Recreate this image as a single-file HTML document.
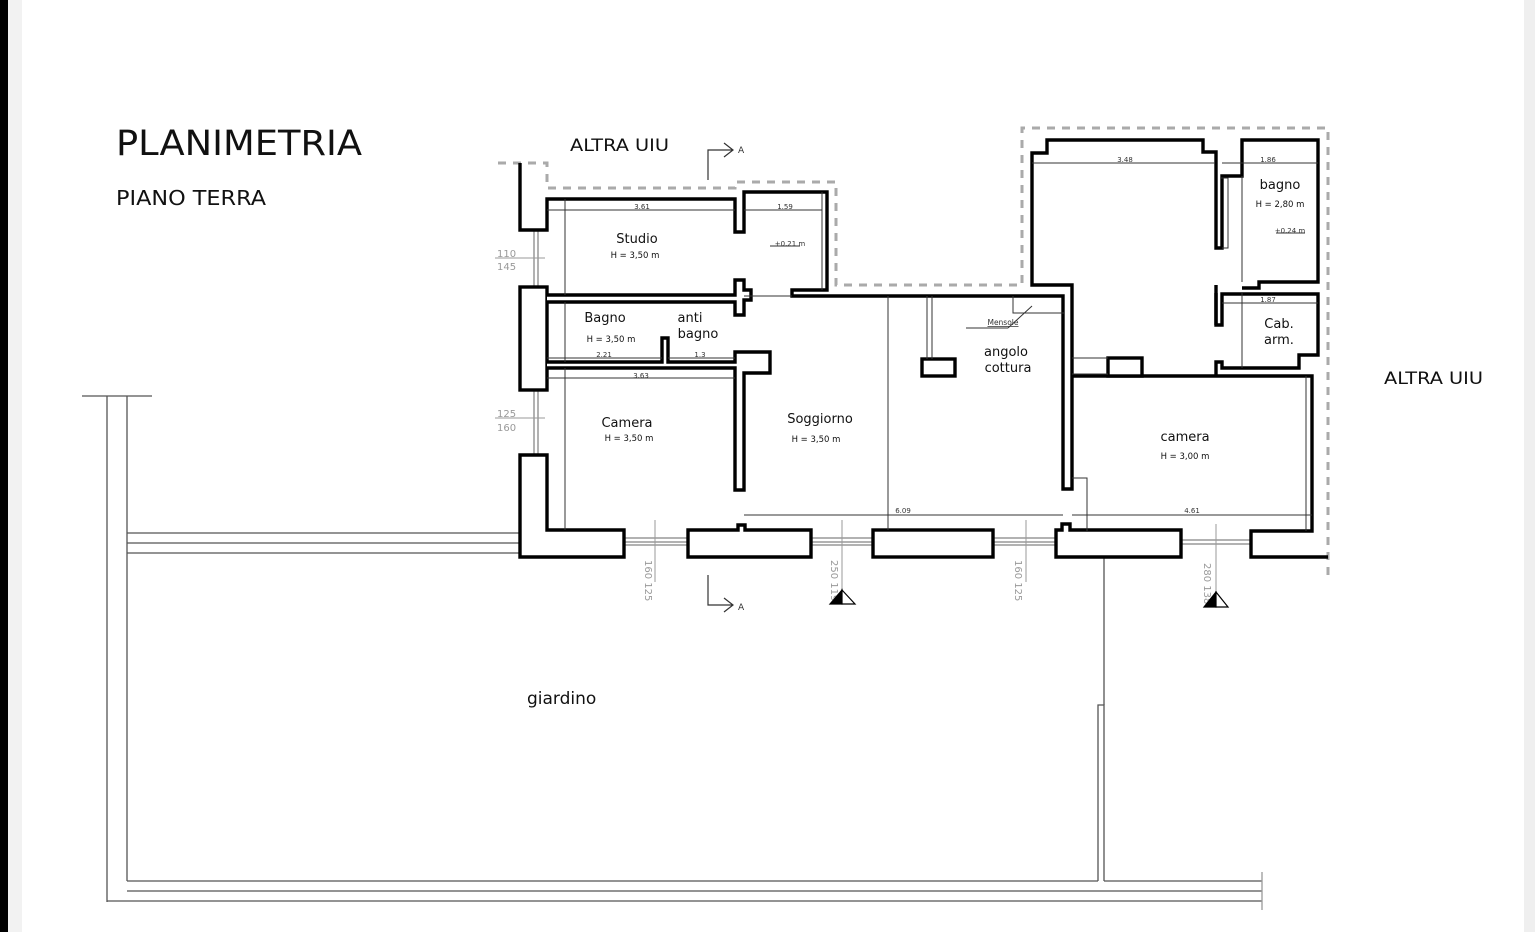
<!DOCTYPE html>
<html><head><meta charset="utf-8"><style>
html,body{margin:0;padding:0;background:#fff;}
svg{display:block;}
text{font-family:"DejaVu Sans","Liberation Sans",sans-serif;}
</style></head><body>
<svg width="1535" height="932" viewBox="0 0 1535 932" xmlns="http://www.w3.org/2000/svg">
<rect width="1535" height="932" fill="#fff"/>
<rect x="0" y="0" width="8" height="932" fill="#000"/>
<rect x="8" y="0" width="14" height="932" fill="#f2f2f2"/>
<rect x="1524" y="0" width="11" height="932" fill="#efefef"/>

<text x="116" y="155" font-size="35" textLength="246" lengthAdjust="spacingAndGlyphs" fill="#111">PLANIMETRIA</text>
<text x="116" y="205" font-size="20" textLength="150" lengthAdjust="spacingAndGlyphs" fill="#111">PIANO TERRA</text>
<text x="570" y="151" font-size="17" textLength="99" lengthAdjust="spacingAndGlyphs" fill="#111">ALTRA UIU</text>
<text x="1384" y="384" font-size="17" textLength="99" lengthAdjust="spacingAndGlyphs" fill="#111">ALTRA UIU</text>
<text x="527" y="704" font-size="17" fill="#111">giardino</text>

<!-- dashed outline -->
<g fill="none" stroke="#aaa" stroke-width="3" stroke-dasharray="8,7">
<path d="M498,163 H547 V188 H735 V182 H836 V285 H1022 V128 H1328 V582"/>
</g>

<!-- garden lines -->
<g fill="none" stroke="#555" stroke-width="1.3">
<path d="M82,396 H152"/>
<path d="M107,396 V902"/><path d="M127,396 V553"/><path d="M127,553 V881"/>
<path d="M127,533 H520 M127,543 H520 M127,553 H520"/>
<path d="M107,901 H1262 M127,891 H1262 M127,881 H1098 M1104,881 H1262"/>
<path d="M1098,881 V705 H1104 V881"/><path d="M1104,557 V705"/>
<path d="M1262,872 V910" stroke="#999"/>
</g>

<!-- windows -->
<g stroke="#666" stroke-width="1">
<path d="M534,230 V287 M538,230 V287 M534,390 V455 M538,390 V455"/>
<path d="M624,538 H688 M624,542 H688 M624,545 H688"/>
<path d="M811,538 H873 M811,542 H873 M811,545 H873"/>
<path d="M993,538 H1056 M993,542 H1056 M993,545 H1056"/>
<path d="M1181,540 H1251 M1181,544 H1251"/>
</g>

<!-- walls -->
<g fill="#fff" stroke="#000" stroke-width="3.4" stroke-linejoin="miter">
<path fill="none" d="M520,163 V230 H547 V199 H735 V232 H744 V192 H827 V290 H792 V296 H1063 V489 H1072 V285 H1032 V153 H1047 V140 H1203 V152 H1216 V248 H1222 V176 H1242 V140 H1318 V282 H1259 V288 H1242"/>
<rect x="520" y="287" width="27" height="103"/>
<path d="M547,295 H735 V280 H744 V290 H751 V300 H744 V315 H735 V302 H547"/>
<path d="M547,362 H662 V338 H668 V362 H735 V352 H770 V373 H744 V490 H735 V368 H547"/>
<path d="M520,455 H547 V530 H624 V557 H520 Z"/>
<path d="M688,530 H738 V525 H745 V530 H811 V557 H688 Z"/>
<rect x="873" y="530" width="120" height="27"/>
<path d="M1056,530 H1062 V524 H1070 V530 H1181 V557 H1056 Z"/>
<path fill="none" d="M1328,557 H1251 V531 H1312 V376 H1072"/>
<path fill="none" d="M1216,293 V325 H1222 V294 H1318 V355 H1299 V368 H1222 V362 H1216 V376"/>
<path fill="none" d="M1216,285 V325"/>
<rect x="922" y="359" width="33" height="17"/>
<rect x="1108" y="358" width="34" height="18"/>
</g>

<!-- thin lines -->
<g stroke="#333" stroke-width="1" fill="none">
<path d="M932,296 V359 M927,296 V359"/>
<path d="M1013,296 V313 H1064 M1008,328 L1032,306"/>
<path d="M966,328 H1008"/>
<path d="M1072,358 H1108 M1072,374 H1108"/>
<path d="M1072,478 H1087 V531"/>
<path d="M1221,178 H1228 V248 H1222"/>
<path d="M744,296 H792"/>
<!-- dimension lines -->
<path d="M547,210 H735 M744,210 H822 M565,199 V295 M822,192 V290"/>
<path d="M565,302 V362 M547,358 H662 M668,358 H735 M547,378 H735 M565,368 V530"/>
<path d="M744,515 H1063 M1072,515 H1312 M888,296 V530 M1306,376 V531"/>
<path d="M1032,163 H1215 M1222,163 H1318 M1242,176 V282 M1222,303 H1318 M1242,293 V368"/>
<path d="M770,246 H800 M1276,233 H1305"/>
</g>
<g stroke="#999" stroke-width="1" fill="none">
<path d="M495,258 H545 M495,418 H545"/>
<path d="M655,520 V582 M842,520 V590 M1026,520 V582 M1216,524 V590"/>
</g>
<g font-size="7" fill="#333" text-anchor="middle">
<text x="642" y="209">3.61</text><text x="785" y="209">1.59</text>
<text x="790" y="246">+0.21 m</text><text x="1290" y="233">+0.24 m</text>
<text x="604" y="357">2.21</text><text x="700" y="357">1.3</text>
<text x="641" y="378">3.63</text><text x="903" y="513">6.09</text><text x="1192" y="513">4.61</text>
<text x="1125" y="162">3.48</text><text x="1268" y="162">1.86</text><text x="1268" y="302">1.87</text>
<text x="1003" y="325" font-size="7.5" text-decoration="underline">Mensole</text>
</g>
<g font-size="10" fill="#999">
<text x="497" y="257">110</text><text x="497" y="270">145</text>
<text x="497" y="417">125</text><text x="497" y="431">160</text>
<text transform="translate(645,560) rotate(90)">160 125</text>
<text transform="translate(831,560) rotate(90)">250 119</text>
<text transform="translate(1015,560) rotate(90)">160 125</text>
<text transform="translate(1204,563) rotate(90)">280 138</text>
</g>

<!-- room labels -->
<g fill="#111" font-size="13" text-anchor="middle">
<text x="637" y="243">Studio</text>
<text x="605" y="322">Bagno</text>
<text x="690" y="322">anti</text><text x="698" y="338">bagno</text>
<text x="627" y="427">Camera</text>
<text x="820" y="423">Soggiorno</text>
<text x="1006" y="356">angolo</text><text x="1008" y="372">cottura</text>
<text x="1185" y="441">camera</text>
<text x="1280" y="189">bagno</text>
<text x="1279" y="328">Cab.</text><text x="1279" y="344">arm.</text>
</g>
<g fill="#111" font-size="8.5" text-anchor="middle">
<text x="635" y="258">H = 3,50 m</text>
<text x="611" y="342">H = 3,50 m</text>
<text x="629" y="441">H = 3,50 m</text>
<text x="816" y="442">H = 3,50 m</text>
<text x="1185" y="459">H = 3,00 m</text>
<text x="1280" y="207">H = 2,80 m</text>
</g>

<!-- section marks -->
<g stroke="#333" stroke-width="1.2" fill="none">
<path d="M708,180 V150 H733 M724,143 L733,150 L724,157"/>
<path d="M708,575 V605 H733 M724,598 L733,605 L724,612"/>
</g>
<text x="738" y="153" font-size="9" fill="#333">A</text>
<text x="738" y="610" font-size="9" fill="#333">A</text>
<g stroke="#000" stroke-width="1.2">
<path d="M842,590 L830,604 H842 Z" fill="#000"/><path d="M842,590 L855,604 H842 Z" fill="#fff"/>
<path d="M1216,592 L1204,607 H1216 Z" fill="#000"/><path d="M1216,592 L1228,607 H1216 Z" fill="#fff"/>
</g>
</svg>
</body></html>
